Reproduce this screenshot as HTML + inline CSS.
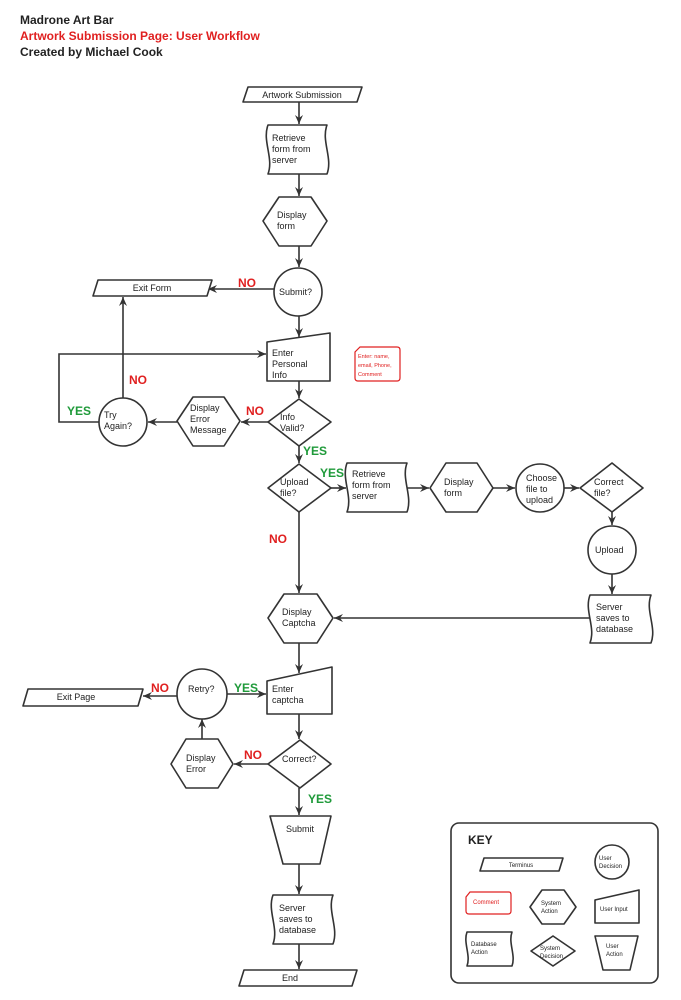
<!DOCTYPE html>
<html><head><meta charset="utf-8"><style>
html,body{margin:0;padding:0;background:#fff;}
svg{display:block;}
text{font-family:"Liberation Sans",sans-serif;}
.t{font-size:9px;fill:#222;}
.s{fill:#fff;stroke:#333;stroke-width:1.6;stroke-linejoin:round;}
.l{stroke:#333;stroke-width:1.6;fill:none;}
.no{fill:#e02020;font-weight:bold;font-size:12px;}
.yes{fill:#1f9a3a;font-weight:bold;font-size:12px;}
</style></head><body>
<svg width="681" height="1000" viewBox="0 0 681 1000" xmlns="http://www.w3.org/2000/svg">
<defs><marker id="a" markerWidth="10" markerHeight="10" refX="9" refY="5" orient="auto" markerUnits="userSpaceOnUse"><path d="M0,1 L9,5 L0,9 L3,5 Z" fill="#333"/></marker></defs>
<text x="20" y="24" font-size="12" font-weight="bold" fill="#222">Madrone Art Bar</text>
<text x="20" y="40" font-size="12" font-weight="bold" fill="#e02020">Artwork Submission Page: User Workflow</text>
<text x="20" y="56" font-size="12" font-weight="bold" fill="#222">Created by Michael Cook</text>

<!-- connectors -->
<g class="l" marker-end="url(#a)">
<line x1="299" y1="102" x2="299" y2="124"/>
<line x1="299" y1="174" x2="299" y2="196"/>
<line x1="299" y1="246" x2="299" y2="267"/>
<line x1="299" y1="316" x2="299" y2="337"/>
<line x1="275" y1="289" x2="208" y2="289"/>
<line x1="123" y1="398" x2="123" y2="297"/>
<polyline points="99,422 59,422 59,354 266,354"/>
<line x1="299" y1="381" x2="299" y2="398"/>
<line x1="268" y1="422" x2="241" y2="422"/>
<line x1="177" y1="422" x2="148" y2="422"/>
<line x1="299" y1="446" x2="299" y2="463"/>
<line x1="331" y1="488" x2="346" y2="488"/>
<line x1="407" y1="488" x2="429" y2="488"/>
<line x1="493" y1="488" x2="515" y2="488"/>
<line x1="564" y1="488" x2="579" y2="488"/>
<line x1="612" y1="512" x2="612" y2="525"/>
<line x1="612" y1="574" x2="612" y2="594"/>
<line x1="590" y1="618" x2="334" y2="618"/>
<line x1="299" y1="512" x2="299" y2="593"/>
<line x1="299" y1="643" x2="299" y2="673"/>
<line x1="299" y1="714" x2="299" y2="739"/>
<line x1="227" y1="694" x2="266" y2="694"/>
<line x1="177" y1="696" x2="143" y2="696"/>
<line x1="268" y1="764" x2="234" y2="764"/>
<line x1="202" y1="739" x2="202" y2="719"/>
<line x1="299" y1="788" x2="299" y2="815"/>
<line x1="299" y1="864" x2="299" y2="894"/>
<line x1="299" y1="944" x2="299" y2="969"/>
</g>

<!-- shapes -->
<polygon class="s" points="248,87 362,87 357,102 243,102"/>
<text class="t" x="302" y="98" text-anchor="middle">Artwork Submission</text>

<path class="s" d="M268,125 H327 C321,141 333,158 327,174 H268 C274,158 262,141 268,125 Z"/>
<text class="t" x="272" y="141">Retrieve</text><text class="t" x="272" y="152">form from</text><text class="t" x="272" y="163">server</text>

<polygon class="s" points="263,221 279,197 311,197 327,221 311,246 279,246"/>
<text class="t" x="277" y="218">Display</text><text class="t" x="277" y="229">form</text>

<circle class="s" cx="298" cy="292" r="24"/>
<text class="t" x="279" y="295">Submit?</text>

<polygon class="s" points="98,280 212,280 207,296 93,296"/>
<text class="t" x="152" y="291" text-anchor="middle">Exit Form</text>

<path class="s" d="M267,342 L330,333 V381 H267 Z"/>
<text class="t" x="272" y="356">Enter</text><text class="t" x="272" y="367">Personal</text><text class="t" x="272" y="378">Info</text>

<path d="M360,347 H397 Q400,347 400,350 V378 Q400,381 397,381 H358 Q355,381 355,378 V352 Z" fill="#fff" stroke="#e02020" stroke-width="1.2"/>
<text x="358" y="358" font-size="5.5" fill="#e02020">Enter: name,</text>
<text x="358" y="367" font-size="5.5" fill="#e02020">email, Phone,</text>
<text x="358" y="376" font-size="5.5" fill="#e02020">Comment</text>

<polygon class="s" points="299,399 331,422 299,446 268,422"/>
<text class="t" x="280" y="420">Info</text><text class="t" x="280" y="431">Valid?</text>

<polygon class="s" points="177,421 193,397 224,397 240,421 224,446 193,446"/>
<text class="t" x="190" y="411">Display</text><text class="t" x="190" y="422">Error</text><text class="t" x="190" y="433">Message</text>

<circle class="s" cx="123" cy="422" r="24"/>
<text class="t" x="104" y="418">Try</text><text class="t" x="104" y="429">Again?</text>

<polygon class="s" points="299,464 331,488 299,512 268,488"/>
<text class="t" x="280" y="485">Upload</text><text class="t" x="280" y="496">file?</text>

<path class="s" d="M347,463 H407 C401,479 413,496 407,512 H347 C353,496 341,479 347,463 Z"/>
<text class="t" x="352" y="477">Retrieve</text><text class="t" x="352" y="488">form from</text><text class="t" x="352" y="499">server</text>

<polygon class="s" points="430,488 446,463 477,463 493,488 477,512 446,512"/>
<text class="t" x="444" y="485">Display</text><text class="t" x="444" y="496">form</text>

<circle class="s" cx="540" cy="488" r="24"/>
<text class="t" x="526" y="481">Choose</text><text class="t" x="526" y="492">file to</text><text class="t" x="526" y="503">upload</text>

<polygon class="s" points="612,463 643,488 612,512 580,488"/>
<text class="t" x="594" y="485">Correct</text><text class="t" x="594" y="496">file?</text>

<circle class="s" cx="612" cy="550" r="24"/>
<text class="t" x="595" y="553">Upload</text>

<path class="s" d="M590,595 H651 C645,611 657,627 651,643 H590 C596,627 584,611 590,595 Z"/>
<text class="t" x="596" y="610">Server</text><text class="t" x="596" y="621">saves to</text><text class="t" x="596" y="632">database</text>

<polygon class="s" points="268,618 284,594 317,594 333,618 317,643 284,643"/>
<text class="t" x="282" y="615">Display</text><text class="t" x="282" y="626">Captcha</text>

<path class="s" d="M267,681 L332,667 V714 H267 Z"/>
<text class="t" x="272" y="692">Enter</text><text class="t" x="272" y="703">captcha</text>

<circle class="s" cx="202" cy="694" r="25"/>
<text class="t" x="188" y="692">Retry?</text>

<polygon class="s" points="28,689 143,689 138,706 23,706"/>
<text class="t" x="76" y="700" text-anchor="middle">Exit Page</text>

<polygon class="s" points="171,764 186,739 218,739 233,764 218,788 186,788"/>
<text class="t" x="186" y="761">Display</text><text class="t" x="186" y="772">Error</text>

<polygon class="s" points="300,740 331,764 300,788 268,764"/>
<text class="t" x="282" y="762">Correct?</text>

<polygon class="s" points="270,816 331,816 320,864 283,864"/>
<text class="t" x="300" y="832" text-anchor="middle">Submit</text>

<path class="s" d="M273,895 H333 C327,911 339,928 333,944 H273 C279,928 267,911 273,895 Z"/>
<text class="t" x="279" y="911">Server</text><text class="t" x="279" y="922">saves to</text><text class="t" x="279" y="933">database</text>

<polygon class="s" points="244,970 357,970 352,986 239,986"/>
<text class="t" x="282" y="981">End</text>

<!-- labels -->
<text class="no" x="238" y="287">NO</text>
<text class="no" x="129" y="384">NO</text>
<text class="yes" x="67" y="415">YES</text>
<text class="no" x="246" y="415">NO</text>
<text class="yes" x="303" y="455">YES</text>
<text class="yes" x="320" y="477">YES</text>
<text class="no" x="269" y="543">NO</text>
<text class="no" x="151" y="692">NO</text>
<text class="yes" x="234" y="692">YES</text>
<text class="no" x="244" y="759">NO</text>
<text class="yes" x="308" y="803">YES</text>

<!-- key -->
<rect x="451" y="823" width="207" height="160" rx="8" fill="#fff" stroke="#333" stroke-width="1.6"/>
<text x="468" y="844" font-size="12" font-weight="bold" fill="#222">KEY</text>
<polygon class="s" points="484,858 563,858 559,871 480,871"/>
<text x="521" y="867" font-size="6" text-anchor="middle" fill="#222">Terminus</text>
<circle class="s" cx="612" cy="862" r="17"/>
<text x="599" y="860" font-size="6" fill="#222">User</text><text x="599" y="868" font-size="6" fill="#222">Decision</text>
<path d="M470,892 H509 Q511,892 511,895 V911 Q511,914 508,914 H469 Q466,914 466,911 V897 Z" fill="#fff" stroke="#e02020" stroke-width="1.2"/>
<text x="473" y="904" font-size="6" fill="#e02020">Comment</text>
<polygon class="s" points="530,907 542,890 564,890 576,907 564,924 542,924"/>
<text x="541" y="905" font-size="6" fill="#222">System</text><text x="541" y="913" font-size="6" fill="#222">Action</text>
<path class="s" d="M595,900 L639,890 V923 H595 Z"/>
<text x="600" y="911" font-size="6" fill="#222">User Input</text>
<path class="s" d="M467,932 H512 C508,943 516,955 512,966 H467 C471,955 463,943 467,932 Z"/>
<text x="471" y="946" font-size="6" fill="#222">Database</text><text x="471" y="954" font-size="6" fill="#222">Action</text>
<polygon class="s" points="553,936 575,951 553,966 531,951"/>
<text x="540" y="950" font-size="6" fill="#222">System</text><text x="540" y="958" font-size="6" fill="#222">Decision</text>
<polygon class="s" points="595,936 638,936 630,970 603,970"/>
<text x="606" y="948" font-size="6" fill="#222">User</text><text x="606" y="956" font-size="6" fill="#222">Action</text>
</svg>
</body></html>
